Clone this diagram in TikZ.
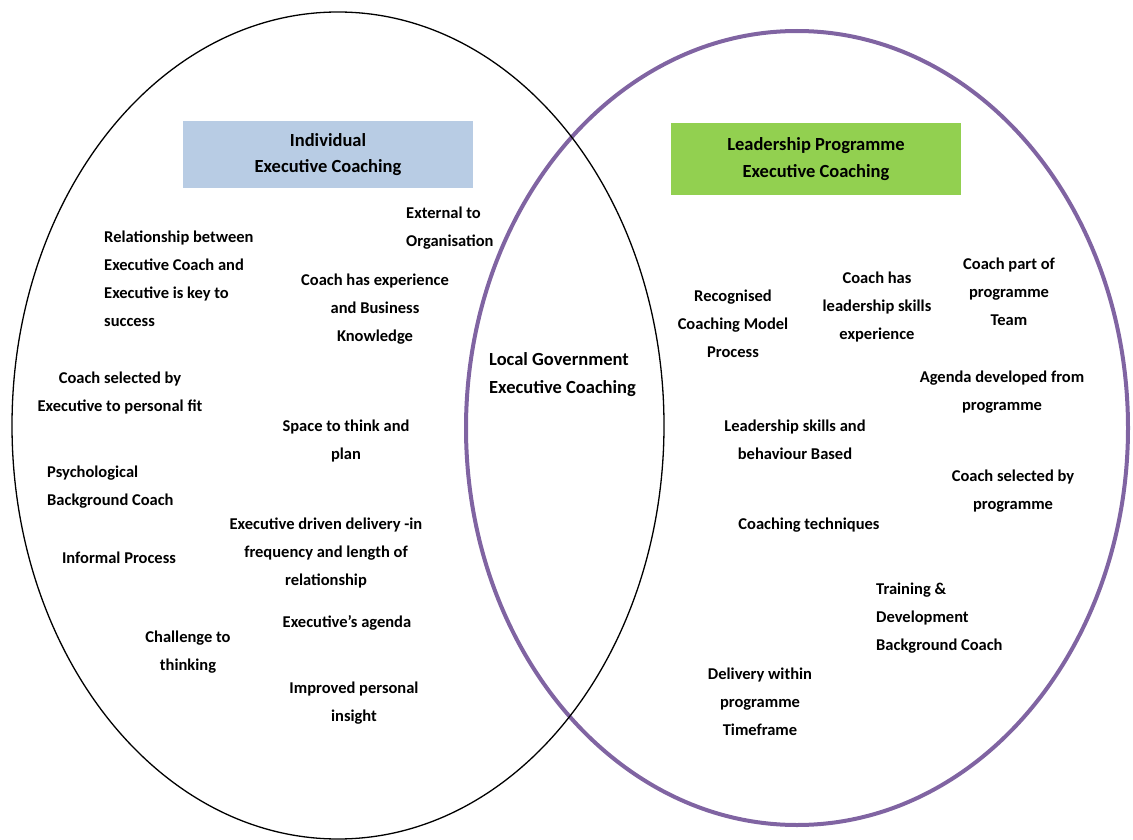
\documentclass[tikz,border=0pt]{standalone}
\usepackage{fontspec}
\setmainfont{Carlito}
\definecolor{venpurple}{RGB}{128,100,162}
\definecolor{boxblue}{RGB}{184,204,228}
\definecolor{boxgreen}{RGB}{146,208,80}
\begin{document}
\begin{tikzpicture}[x=1pt,y=-1pt,
    txt/.style={font=\fontsize{16.5}{28}\selectfont\bfseries, align=center, inner sep=0pt},
    txtl/.style={txt, align=left, anchor=west},
    head/.style={font=\fontsize{18.5}{26.5}\selectfont\bfseries, align=center, inner sep=0pt, minimum width=290pt}]
    \useasboundingbox (0,0) rectangle (1133,840);
    \draw[venpurple, line width=4pt] (797,428) ellipse [x radius=331, y radius=397];
    \draw[line width=1.3pt] (338,425.5) ellipse [x radius=326, y radius=413.5];
    \node[head, fill=boxblue, minimum height=67pt] (indiv) at (328,154.5) {Individual\\Executive Coaching};
    \node[head, fill=boxgreen, minimum height=72pt] (progr) at (816,159) {Leadership Programme\\Executive Coaching};
    \node[head, align=left, anchor=west, minimum width=0pt, font=\fontsize{18.5}{28}\selectfont\bfseries] (local) at (489,375) {Local Government\\Executive Coaching};
    \node[txtl] (relat) at (104,278.5) {Relationship between\\Executive Coach and\\Executive is key to\\success};
    \node[txtl] (extern) at (406,228) {External to\\Organisation};
    \node[txt] (bizexp) at (375,309) {Coach has experience\\and Business\\Knowledge};
    \node[txt] (selexec) at (120,393) {Coach selected by\\Executive to personal fit};
    \node[txt] (space) at (346,441) {Space to think and\\plan};
    \node[txtl] (psych) at (47,487) {Psychological\\Background Coach};
    \node[txt] (driven) at (326,553) {Executive driven delivery -in\\frequency and length of\\relationship};
    \node[txt] (informal) at (119,558) {Informal Process};
    \node[txt] (agenda) at (347,623) {Executive’s agenda};
    \node[txt] (challenge) at (188,652) {Challenge to\\thinking};
    \node[txt] (insight) at (354,703) {Improved personal\\insight};
    \node[txt] (model) at (733,324) {Recognised\\Coaching Model\\Process};
    \node[txt] (leadexp) at (877,307) {Coach has\\leadership skills\\experience};
    \node[txt] (team) at (1009,292) {Coach part of\\programme\\Team};
    \node[txt] (agendap) at (1002,392) {Agenda developed from\\programme};
    \node[txt] (behav) at (795,440) {Leadership skills and\\behaviour Based};
    \node[txt] (selprog) at (1013,491) {Coach selected by\\programme};
    \node[txt] (techn) at (809,525) {Coaching techniques};
    \node[txtl] (training) at (876,618) {Training \&\\Development\\Background Coach};
    \node[txt] (timeframe) at (760,702) {Delivery within\\programme\\Timeframe};
\end{tikzpicture}
\end{document}
